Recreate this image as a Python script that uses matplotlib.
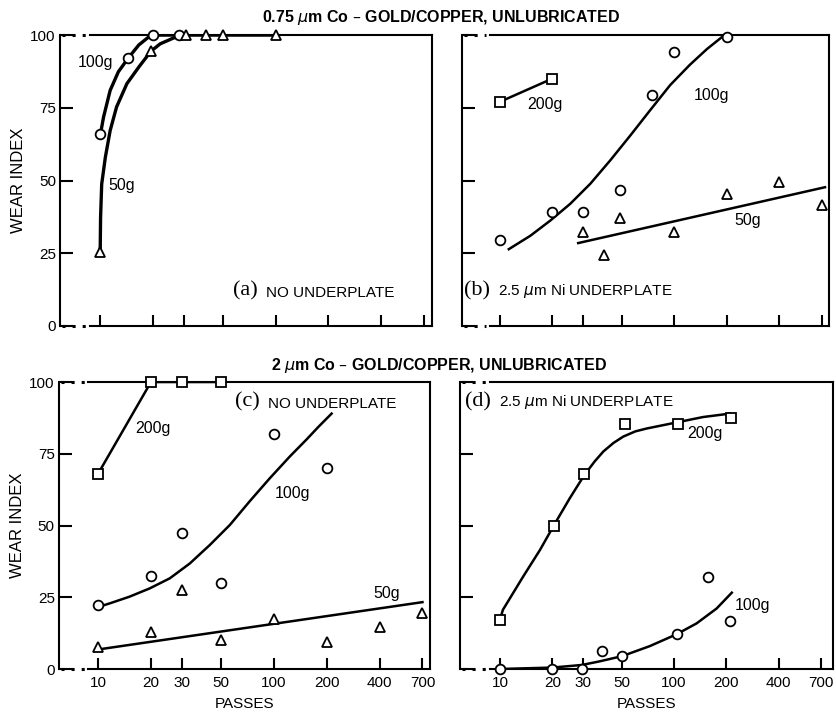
import matplotlib
matplotlib.use('Agg')
import matplotlib.pyplot as plt

plt.rcParams['font.family'] = ['Liberation Sans', 'DejaVu Sans']

# x 눈금
x_ticks = [10, 20, 30, 50, 100, 200, 400, 700]
y_ticks = [0, 25, 50, 75, 100]

# (a) 0.75um, no underplate
a_100_x = [10, 14.5, 20, 28]
a_100_y = [66, 92, 100, 100]
a_100_cx = [10, 10.45, 11.4, 12.7, 14.5, 16.6, 19.5, 28]
a_100_cy = [65.5, 71.8, 81, 87.4, 92.2, 96.6, 100, 100]
a_50_x = [10, 19.5, 31, 40, 50, 100]
a_50_y = [25.5, 94.5, 100, 100, 100, 100]
a_50_cx = [10, 10.05, 10.2, 10.7, 11.4, 12.4, 14.2, 16.6, 19.5, 22, 26.2, 31.3, 100]
a_50_cy = [25.5, 37.3, 48.8, 58, 67.2, 75.3, 83.3, 89, 94.5, 97, 99, 100, 100]

# (b) 0.75um, 2.5um Ni
b_200_x = [10, 20]
b_200_y = [77, 85]
b_100_x = [10, 20, 30, 49, 75, 100, 200]
b_100_y = [29.5, 39.3, 39.3, 46.8, 79.3, 94.2, 99.5]
b_100_cx = [11.3, 15, 19.5, 25.4, 33.1, 43, 56.1, 72.9, 94.8, 123, 154, 192]
b_100_cy = [26.4, 31, 36.2, 42, 48.9, 56.9, 65.5, 74.2, 82.8, 89.8, 95.2, 99.8]
b_50_x = [30, 39.5, 49, 100, 200, 400, 700]
b_50_y = [32.2, 24.5, 37.1, 32.2, 45.2, 49.5, 41.5]
b_50_cx = [28.2, 730]
b_50_cy = [28.5, 47.7]

# (c) 2um, no underplate
c_200_x = [10, 20, 30, 50]
c_200_y = [68, 100, 100, 100]
c_100_x = [10, 20, 30, 50, 100, 200]
c_100_y = [22.4, 32.5, 47.3, 30, 82, 70]
c_100_cx = [10, 11.7, 15.1, 19.7, 25.6, 33.3, 43.2, 56.2, 73, 94.9, 123, 153.5, 180, 213]
c_100_cy = [21.6, 22.9, 25.2, 28.1, 31.6, 36.8, 43.2, 50.2, 58.5, 66.5, 74, 80, 84.5, 89]
c_50_x = [10, 20, 30, 50, 100, 200, 400, 700]
c_50_y = [7.5, 13, 27.5, 10, 17.4, 9.3, 14.7, 19.5]
c_50_cx = [10, 700]
c_50_cy = [6.8, 23.3]

# (d) 2um, 2.5um Ni
d_200_x = [10, 20.4, 30.5, 52, 105, 214]
d_200_y = [17, 50, 68, 85.3, 85.3, 87.6]
d_200_cx = [10, 10.4, 13.6, 17, 20.4, 25.2, 30.5, 35, 39.3, 45, 51.2, 60, 69.7, 105, 147, 210]
d_200_cy = [17, 20.6, 32.2, 41.5, 50, 59.5, 67.5, 72.3, 75.8, 78.8, 81, 82.8, 83.8, 86, 87.8, 89]
d_100_x = [10, 20, 29.5, 38.4, 50.5, 103.5, 157, 210]
d_100_y = [0, 0, 0, 6.3, 4.5, 12.1, 31.9, 16.8]
d_100_cx = [10, 20, 29.5, 37, 50.5, 72.8, 103.5, 135, 176, 215]
d_100_cy = [0, 0.5, 1.4, 2.6, 4.5, 8, 12.1, 15.9, 21.1, 26.6]

fig = plt.figure(figsize=(8.37, 7.13), dpi=100)
ax_a = fig.add_axes([0.0717, 0.5428, 0.4444, 0.408])
ax_b = fig.add_axes([0.552, 0.5428, 0.4385, 0.408])
ax_c = fig.add_axes([0.0705, 0.0617, 0.4433, 0.4025])
ax_d = fig.add_axes([0.5496, 0.0617, 0.4456, 0.4025])

xlims = {ax_a: (5.9, 780), ax_b: (6.1, 770), ax_c: (6.0, 773), ax_d: (5.9, 820)}

mk = dict(markerfacecolor='white', markeredgecolor='black', markeredgewidth=1.3,
          linestyle='none', zorder=3, clip_on=False)
lbl = dict(fontsize=11.5, va='center')

def style_ax(ax, left_labels, bottom_labels):
    ax.set_xscale('log')
    ax.set_xlim(*xlims[ax])
    ax.set_ylim(0, 100)
    ax.set_xticks(x_ticks)
    ax.minorticks_off()
    ax.set_yticks(y_ticks)
    ax.tick_params(axis='both', direction='in', width=1.5, labelsize=11)
    ax.tick_params(axis='x', length=8, pad=5)
    ax.tick_params(axis='y', length=9, pad=3)
    for s in ax.spines.values():
        s.set_linewidth(1.5)
    # 좌상단/좌하단 점선 처리
    ax.spines['top'].set_bounds(8.8, xlims[ax][1])
    ax.spines['bottom'].set_bounds(8.8, xlims[ax][1])
    for yy in (0, 100):
        ax.plot([xlims[ax][0] * 1.02, 8.4], [yy, yy], color='black', lw=2.2,
                linestyle=(0, (1, 2.3)), dash_capstyle='butt', clip_on=False)
    if bottom_labels:
        ax.set_xticklabels([str(v) for v in x_ticks])
        ax.set_xlabel('PASSES', fontsize=11, labelpad=5)
    else:
        ax.set_xticklabels([])
    if left_labels:
        ax.set_yticklabels([str(v) for v in y_ticks])
        ax.set_ylabel('WEAR INDEX', fontsize=12, labelpad=3)
    else:
        ax.set_yticklabels([])

# (a)
ax = ax_a
ax.plot(a_100_cx, a_100_cy, color='black', lw=2.4)
ax.plot(a_50_cx, a_50_cy, color='black', lw=2.4)
ax.plot(a_100_x, a_100_y, marker='o', markersize=7, **mk)
ax.plot(a_50_x, a_50_y, marker='^', markersize=6.5, **mk)
ax.text(11.9, 90.7, '100g', ha='right', **lbl)
ax.text(11.1, 48.3, '50g', **lbl)
style_ax(ax, True, False)

# (b)
ax = ax_b
ax.plot(b_200_x, b_200_y, color='black', lw=1.8)
ax.plot(b_100_cx, b_100_cy, color='black', lw=1.8)
ax.plot(b_50_cx, b_50_cy, color='black', lw=1.8)
ax.plot(b_200_x, b_200_y, marker='s', markersize=6.5, **mk)
ax.plot(b_100_x, b_100_y, marker='o', markersize=7, **mk)
ax.plot(b_50_x, b_50_y, marker='^', markersize=6.5, **mk)
ax.text(14.4, 76.2, '200g', **lbl)
ax.text(130, 79.3, '100g', **lbl)
ax.text(220, 36.2, '50g', **lbl)
style_ax(ax, False, False)

# (c)
ax = ax_c
ax.plot(c_200_x, c_200_y, color='black', lw=1.8)
ax.plot(c_100_cx, c_100_cy, color='black', lw=1.8)
ax.plot(c_50_cx, c_50_cy, color='black', lw=1.8)
ax.plot(c_200_x, c_200_y, marker='s', markersize=6.5, **mk)
ax.plot(c_100_x, c_100_y, marker='o', markersize=7, **mk)
ax.plot(c_50_x, c_50_y, marker='^', markersize=6.5, **mk)
ax.text(16.2, 83.9, '200g', **lbl)
ax.text(101, 61.2, '100g', **lbl)
ax.text(366, 26.4, '50g', **lbl)
style_ax(ax, True, True)

# (d)
ax = ax_d
ax.plot(d_200_cx, d_200_cy, color='black', lw=1.8)
ax.plot(d_100_cx, d_100_cy, color='black', lw=1.8)
ax.plot(d_200_x, d_200_y, marker='s', markersize=6.5, **mk)
ax.plot(d_100_x, d_100_y, marker='o', markersize=7, **mk)
ax.text(120, 82.2, '200g', **lbl)
ax.text(224, 22.3, '100g', **lbl)
style_ax(ax, False, True)

# 패널 라벨
def panel_label(ax, x, y, letter, text):
    t = ax.text(x, y, '(' + letter + ')', fontsize=16,
                family=['Liberation Serif', 'DejaVu Serif'], va='baseline')
    ax.annotate(text, xycoords=t, xy=(1, 0), xytext=(6, 0), textcoords='offset points',
                fontsize=11, va='bottom')

panel_label(ax_a, 57, 10.5, 'a', 'NO UNDERPLATE')
panel_label(ax_b, 6.25, 10.5, 'b', '2.5 $\\mu$m Ni UNDERPLATE')
panel_label(ax_c, 60, 91.5, 'c', 'NO UNDERPLATE')
panel_label(ax_d, 6.3, 91.5, 'd', '2.5 $\\mu$m Ni UNDERPLATE')

# 제목
fig.text(0.527, 0.976, '0.75 $\\mu$m Co \u2013 GOLD/COPPER, UNLUBRICATED', fontsize=11.5,
         fontweight='bold', ha='center', va='center')
fig.text(0.525, 0.488, '2 $\\mu$m Co \u2013 GOLD/COPPER, UNLUBRICATED', fontsize=11.5,
         fontweight='bold', ha='center', va='center')

fig.savefig('out.png', dpi=100)
